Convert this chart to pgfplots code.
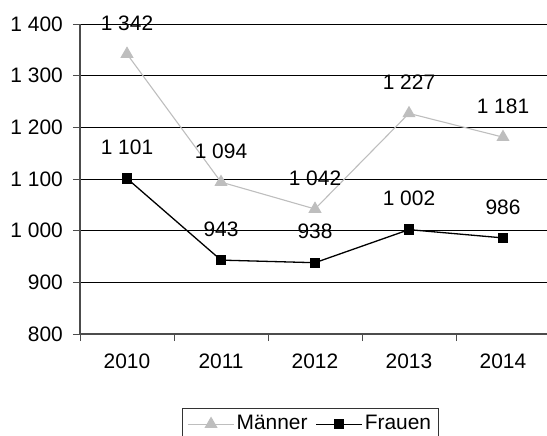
\documentclass[border=0pt]{standalone}
\usepackage{pgfplots}
\pgfplotsset{compat=1.18}
\usepackage{fontspec}
\setmainfont{Liberation Sans}
\definecolor{mgray}{RGB}{190,190,190}
\begin{document}
\fontsize{21}{24}\selectfont
\begin{tikzpicture}
\begin{axis}[
  scale only axis, width=470bp, height=310bp, at={(0,0)}, anchor=south west,
  xmin=0, xmax=5, ymin=800, ymax=1400,
  axis x line=bottom, axis y line=left, axis line style={-, draw=black!70, line width=1.2bp},
  xtick={0.5,1.5,2.5,3.5,4.5}, xticklabels={2010,2011,2012,2013,2014},
  major x tick style={draw=none},
  minor xtick={0,1,2,3,4,5}, minor x tick style={draw=black!70, line width=0.8bp},
  minor tick length=7bp, major tick length=7bp, tick align=outside,
  ytick={800,900,...,1400}, yticklabels={800,900,1 000,1 100,1 200,1 300,1 400},
  major y tick style={draw=black!70, line width=0.8bp},
  ymajorgrids, grid style={black, line width=0.6bp},
  ticklabel style={font=\fontsize{21}{24}\selectfont},
  yticklabel style={xshift=-3bp},
  xticklabel style={yshift=-6bp},
  point meta=explicit symbolic,
  nodes near coords,
  nodes near coords style={anchor=center, yshift=31bp, text=black, font=\fontsize{21}{24}\selectfont},
  legend style={at={(0.49,-0.239)}, anchor=north, legend columns=-1, draw=black!80, line width=0.6bp,
    font=\fontsize{21}{24}\selectfont, inner sep=5bp,
    /tikz/every even column/.append style={column sep=6bp}},
  legend image code/.code={\draw[mark repeat=2,mark phase=2,#1] plot coordinates {(0bp,0bp) (23bp,0bp) (46bp,0bp)};},
]
\addplot[mgray, line width=1.1bp, mark=triangle*, mark size=6.5bp, mark options={fill=mgray, draw=mgray}]
  coordinates {(0.5,1342) [1 342] (1.5,1094) [1 094] (2.5,1042) [1 042] (3.5,1227) [1 227] (4.5,1181) [1 181]};
\addlegendentry{Männer}
\addplot[black, line width=1.3bp, mark=square*, mark size=4.5bp, mark options={fill=black}]
  coordinates {(0.5,1101) [1 101] (1.5,943) [943] (2.5,938) [938] (3.5,1002) [1 002] (4.5,986) [986]};
\addlegendentry{Frauen}
\end{axis}
\pgfresetboundingbox
\useasboundingbox (-80bp,-102bp) rectangle (467bp,334bp);
\end{tikzpicture}
\end{document}
